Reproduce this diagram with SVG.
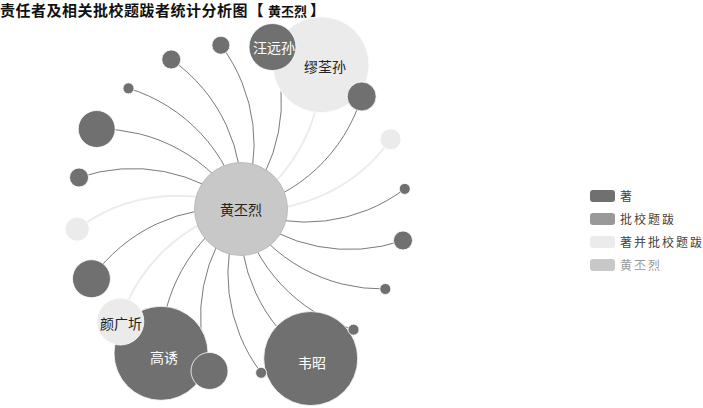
<svg xmlns="http://www.w3.org/2000/svg" width="703" height="408" viewBox="0 0 703 408">
<style>
.t{font-family:"Noto Sans CJK SC","Noto Sans",sans-serif}
.title{font-size:15px;letter-spacing:0.5px;font-weight:bold;fill:#111}
.ld{fill:none;stroke:#7a7a7a;stroke-width:1}
.ll{fill:none;stroke:#ececec;stroke-width:2}
.nd{fill:#707070;stroke:#fff;stroke-width:0.8}
.nl{fill:#ebebeb;stroke:#fff;stroke-width:0.8}
.nc{fill:#c8c8c8;stroke:#b5b5b5;stroke-width:0.8}
.lw{font-size:14px;fill:#fff;text-anchor:middle;dominant-baseline:central}
.lk{font-size:14px;fill:#222;text-anchor:middle;dominant-baseline:central}
.lg{font-size:12px;letter-spacing:2px;fill:#444}
</style>
<g id="title">
<text class="t title" x="0" y="16">责任者及相关批校题跋者统计分析图</text>
<text class="t title" x="248.5" y="16">【</text>
<text class="t title" x="268" y="16" style="font-size:13px;letter-spacing:0">黄丕烈</text>
<text class="t title" x="310" y="16">】</text>
</g>
<g id="links">
<path class="ld" d="M241 209A165 165 0 0 0 404.77 188.89"/>
<path class="ld" d="M241 209A165 165 0 0 0 402.97 240.48"/>
<path class="ld" d="M241 209A165 165 0 0 0 385.31 288.99"/>
<path class="ld" d="M241 209A165 165 0 0 0 353.53 329.67"/>
<path class="ld" d="M241 209A165 165 0 0 0 310.73 358.54"/>
<path class="ld" d="M241 209A165 165 0 0 0 261.11 372.77"/>
<path class="ld" d="M241 209A165 165 0 0 0 209.52 370.97"/>
<path class="ld" d="M241 209A165 165 0 0 0 161.01 353.31"/>
<path class="ll" d="M241 209A165 165 0 0 0 120.33 321.53"/>
<path class="ld" d="M241 209A165 165 0 0 0 91.46 278.73"/>
<path class="ll" d="M241 209A165 165 0 0 0 77.23 229.11"/>
<path class="ld" d="M241 209A165 165 0 0 0 79.03 177.52"/>
<path class="ld" d="M241 209A165 165 0 0 0 96.69 129.01"/>
<path class="ld" d="M241 209A165 165 0 0 0 128.47 88.33"/>
<path class="ld" d="M241 209A165 165 0 0 0 171.27 59.46"/>
<path class="ld" d="M241 209A165 165 0 0 0 220.89 45.23"/>
<path class="ld" d="M241 209A165 165 0 0 0 272.48 47.03"/>
<path class="ll" d="M241 209A165 165 0 0 0 320.99 64.69"/>
<path class="ld" d="M241 209A165 165 0 0 0 361.67 96.47"/>
<path class="ll" d="M241 209A165 165 0 0 0 390.54 139.27"/>
</g>
<g id="n17"><circle class="nl" cx="320.99" cy="64.69" r="48"/></g>
<g id="n4"><circle class="nd" cx="310.73" cy="358.54" r="47"/></g>
<g id="n7"><circle class="nd" cx="161.01" cy="353.31" r="47"/></g>
<g id="n8"><circle class="nl" cx="120.33" cy="321.53" r="23.5"/></g>
<g id="n16"><circle class="nd" cx="272.48" cy="47.03" r="23.5"/></g>
<g id="n9"><circle class="nd" cx="91.46" cy="278.73" r="19"/></g>
<g id="n6"><circle class="nd" cx="209.52" cy="370.97" r="18.5"/></g>
<g id="n12"><circle class="nd" cx="96.69" cy="129.01" r="18.5"/></g>
<g id="n18"><circle class="nd" cx="361.67" cy="96.47" r="14.5"/></g>
<g id="n10"><circle class="nl" cx="77.23" cy="229.11" r="12"/></g>
<g id="n19"><circle class="nl" cx="390.54" cy="139.27" r="10.5"/></g>
<g id="n1"><circle class="nd" cx="402.97" cy="240.48" r="9.5"/></g>
<g id="n11"><circle class="nd" cx="79.03" cy="177.52" r="9.5"/></g>
<g id="n14"><circle class="nd" cx="171.27" cy="59.46" r="9.5"/></g>
<g id="n15"><circle class="nd" cx="220.89" cy="45.23" r="9"/></g>
<g id="n0"><circle class="nd" cx="404.77" cy="188.89" r="5.5"/></g>
<g id="n2"><circle class="nd" cx="385.31" cy="288.99" r="5.5"/></g>
<g id="n3"><circle class="nd" cx="353.53" cy="329.67" r="5.5"/></g>
<g id="n5"><circle class="nd" cx="261.11" cy="372.77" r="5.5"/></g>
<g id="n13"><circle class="nd" cx="128.47" cy="88.33" r="5.5"/></g>
<g id="center"><circle class="nc" cx="241" cy="209" r="46.5"/><text class="t lk" x="241" y="209">黄丕烈</text></g>
<g id="labels">
<text class="t lk" x="325" y="66">缪荃孙</text>
<text class="t lw" x="274" y="47">汪远孙</text>
<text class="t lk" x="121" y="323">颜广圻</text>
<text class="t lw" x="164" y="357">高诱</text>
<text class="t lw" x="312" y="362">韦昭</text>
</g>
<g id="legend">
<rect x="590" y="190" width="25" height="12" rx="3" fill="#707070"/>
<text class="t lg" x="620" y="201">著</text>
<rect x="590" y="213" width="25" height="12" rx="3" fill="#999999"/>
<text class="t lg" x="620" y="224">批校题跋</text>
<rect x="590" y="236" width="25" height="12" rx="3" fill="#ebebeb"/>
<text class="t lg" x="620" y="247">著并批校题跋</text>
<rect x="590" y="259" width="25" height="12" rx="3" fill="#c8c8c8"/>
<text class="t lg" x="620" y="270" style="fill:#999">黄丕烈</text>
</g>
</svg>
